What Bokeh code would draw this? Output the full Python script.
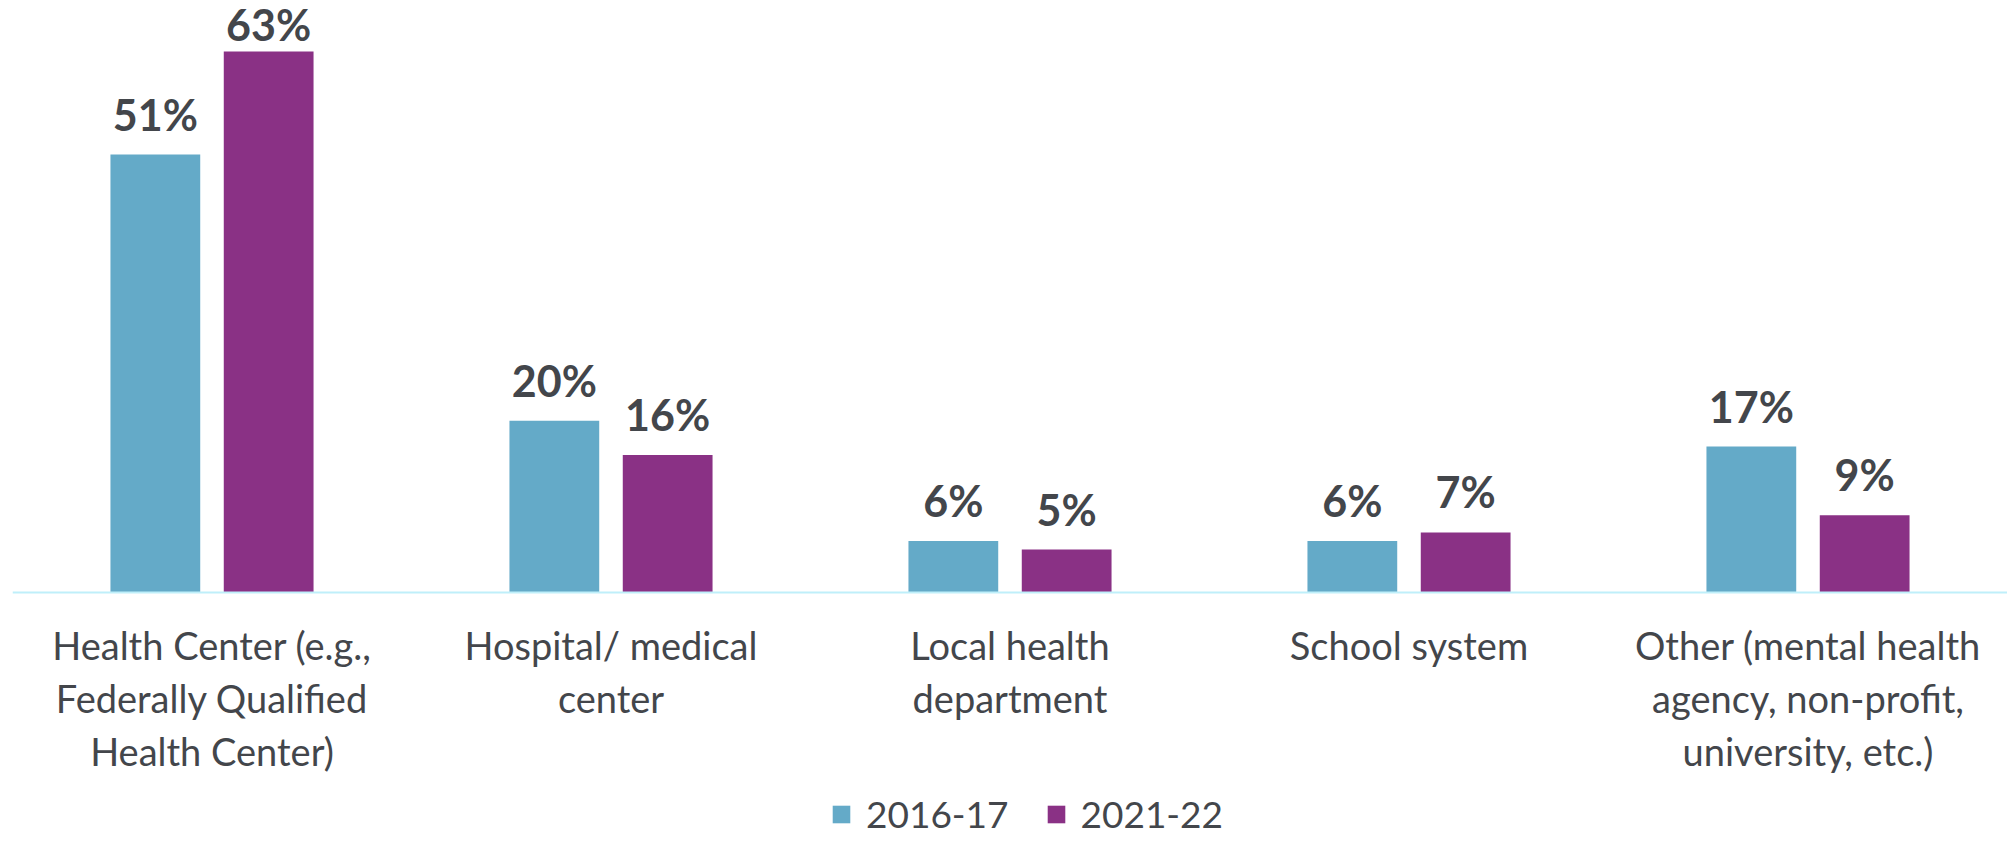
from bokeh.plotting import figure
from bokeh.models import ColumnDataSource, FactorRange, Range1d, LabelSet, Legend, LegendItem, Span
from bokeh.transform import dodge
from bokeh.core.properties import value
from bokeh.embed import file_html
from bokeh.resources import INLINE

categories = [
    "Health Center (e.g.,\nFederally Qualified\nHealth Center)",
    "Hospital/ medical\ncenter",
    "Local health\ndepartment",
    "School system",
    "Other (mental health\nagency, non-profit,\nuniversity, etc.)",
]
series_names = ["2016-17", "2021-22"]
values_2016 = [51, 20, 6, 6, 17]
values_2021 = [63, 16, 5, 7, 9]

colors = ["#64AAC8", "#8A3185"]
text_color = "#43464B"
axis_color = "#BFEFFA"

W, H = 2007, 838
LEFT = 12
BASE_PX = 592          # baseline, px from top
PX_PER_UNIT = 8.587
Y_END = BASE_PX / PX_PER_UNIT
Y_START = -(H - BASE_PX) / PX_PER_UNIT
LINE_STEP = 53


def label_offsets(vals):
    # value labels float 24px above the bar, but are kept inside the chart top
    return [min(24, (Y_END - v) * PX_PER_UNIT - 40) for v in vals]


src = ColumnDataSource(dict(
    cat=categories,
    v1=values_2016,
    v2=values_2021,
    l1=[f"{v}%" for v in values_2016],
    l2=[f"{v}%" for v in values_2021],
    o1=label_offsets(values_2016),
    o2=label_offsets(values_2021),
))

# one row per line of each category label, so that every line is centred
line_cat, line_text, line_off = [], [], []
for c in categories:
    for i, line in enumerate(c.split("\n")):
        line_cat.append(c)
        line_text.append(line)
        line_off.append(-29 - i * LINE_STEP)
line_src = ColumnDataSource(dict(cat=line_cat, text=line_text, off=line_off,
                                 base=[0] * len(line_cat)))

p = figure(
    x_range=FactorRange(factors=categories),
    y_range=Range1d(Y_START, Y_END),
    width=W, height=H,
    output_backend="svg", toolbar_location=None,
    min_border_left=LEFT, min_border_right=0, min_border_top=0, min_border_bottom=0,
)
p.outline_line_color = None
p.xgrid.grid_line_color = None
p.ygrid.grid_line_color = None
p.xaxis.visible = False
p.yaxis.visible = False

off = 0.142
bw = 0.225
r1 = p.vbar(x=dodge("cat", -off, range=p.x_range), top="v1", bottom=0, width=bw, source=src,
            color=colors[0], line_color=None)
r2 = p.vbar(x=dodge("cat", off, range=p.x_range), top="v2", bottom=0, width=bw, source=src,
            color=colors[1], line_color=None)

p.add_layout(Span(location=0, dimension="width", line_color=axis_color, line_width=2))

for xoff, field, lab, o in [(-off, "v1", "l1", "o1"), (off, "v2", "l2", "o2")]:
    ls = LabelSet(x=dodge("cat", xoff, range=p.x_range), y=field, text=lab, source=src,
                  text_align="center", text_baseline="alphabetic", y_offset=o,
                  text_font=value("Lato"), text_font_style="bold", text_font_size="43px",
                  text_color=text_color)
    p.add_layout(ls)

cat_labels = LabelSet(x="cat", y="base", text="text", source=line_src,
                      text_align="center", text_baseline="top", y_offset="off",
                      text_font=value("Lato"), text_font_size="38px",
                      text_color=text_color)
p.add_layout(cat_labels)

legend = Legend(items=[LegendItem(label=series_names[0], renderers=[r1]),
                       LegendItem(label=series_names[1], renderers=[r2])],
                orientation="horizontal", location=(818, 2))
legend.glyph_width = 22
legend.glyph_height = 22
legend.label_standoff = 14
legend.spacing = 36
legend.label_text_font = "Lato"
legend.label_text_font_size = "37px"
legend.label_text_color = text_color
legend.border_line_color = None
legend.background_fill_alpha = 0
legend.padding = 0
legend.margin = 0
p.add_layout(legend)

open("out.html", "w").write(file_html(p, INLINE))
